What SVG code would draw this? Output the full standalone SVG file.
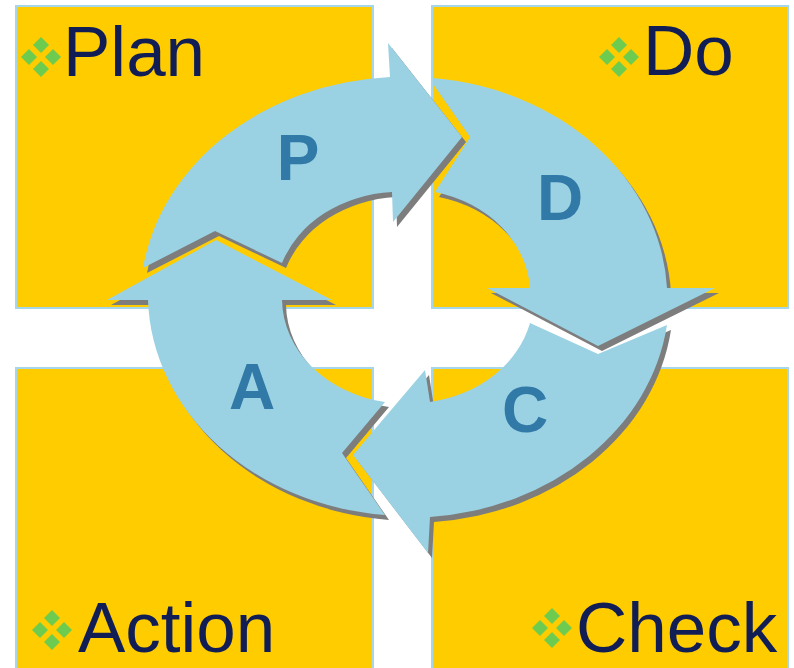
<svg xmlns="http://www.w3.org/2000/svg" xmlns:xlink="http://www.w3.org/1999/xlink" width="794" height="668" viewBox="0 0 794 668">
  <style>
    .box { fill: #FFCC00; stroke: #A6D6EA; stroke-width: 2; }
    .title { font-family: "Liberation Sans", Arial, sans-serif; font-size: 71px; fill: #111D55; }
    .arrow { fill: #9BD2E3; }
    .shadow { fill: #7D7D7D; filter: url(#soft); }
    .letter { font-family: "Liberation Sans", Arial, sans-serif; font-weight: bold; font-size: 64px; fill: #317AA8; text-anchor: middle; }
    .dia { fill: #6DCB4F; }
  </style>
  <defs>
    <filter id="soft" x="-5%" y="-5%" width="110%" height="110%">
      <feGaussianBlur stdDeviation="0.5"/>
    </filter>
    <g id="bullet">
      <polygon class="dia" points="0,-20 8,-12 0,-4 -8,-12"/>
      <polygon class="dia" points="0,4 8,12 0,20 -8,12"/>
      <polygon class="dia" points="-12,-8 -4,0 -12,8 -20,0"/>
      <polygon class="dia" points="12,-8 20,0 12,8 4,0"/>
    </g>
    <path id="arrC" d="M667,325 A260,222 0 0 1 430,517 L428,553 L353,455 L425,370 L430,402 A124,105 0 0 0 530,323 L598,354 Z"/>
    <path id="arrD" d="M433,78 A260,222 0 0 1 667,288 L715,288 L598,346 L487,288 L530,288 A124,105 0 0 0 435,192 L470,137 L433,84 Z"/>
    <path id="arrP" d="M143,268 A265,224 0 0 1 390,77 L388,43 L462,137 L393,222 L392,192 A124,105 0 0 0 282,263 L215,231 Z"/>
    <path id="arrA" d="M385,515 A260,222 0 0 1 148,300 L107,300 L216,240 L332,300 L282,300 A124,105 0 0 0 385,402 L342,453 Z"/>
  </defs>

  <g id="plan">
    <rect class="box" x="16" y="6" width="357" height="302"/>
    <use xlink:href="#bullet" href="#bullet" x="41" y="57"/>
    <text class="title" x="63" y="76">Plan</text>
  </g>
  <g id="do">
    <rect class="box" x="432" y="6" width="356" height="302"/>
    <use xlink:href="#bullet" href="#bullet" x="619" y="57"/>
    <text class="title" x="643" y="75">Do</text>
  </g>
  <g id="action">
    <rect class="box" x="16" y="368" width="357" height="302"/>
    <use xlink:href="#bullet" href="#bullet" x="52" y="630"/>
    <text class="title" x="78" y="652">Action</text>
  </g>
  <g id="check">
    <rect class="box" x="432" y="368" width="356" height="302"/>
    <use xlink:href="#bullet" href="#bullet" x="552" y="628"/>
    <text class="title" x="576" y="652">Check</text>
  </g>

  <g id="connectors">
    <g id="arrow-c">
      <use class="shadow" xlink:href="#arrC" href="#arrC" transform="translate(4,5)"/>
      <use class="arrow" xlink:href="#arrC" href="#arrC"/>
      <text class="letter" x="525" y="432">C</text>
    </g>
    <g id="arrow-d">
      <use class="shadow" xlink:href="#arrD" href="#arrD" transform="translate(4,5)"/>
      <use class="arrow" xlink:href="#arrD" href="#arrD"/>
      <text class="letter" x="560" y="220">D</text>
    </g>
    <g id="arrow-p">
      <use class="shadow" xlink:href="#arrP" href="#arrP" transform="translate(4,5)"/>
      <use class="arrow" xlink:href="#arrP" href="#arrP"/>
      <text class="letter" x="298" y="180">P</text>
    </g>
    <g id="arrow-a">
      <use class="shadow" xlink:href="#arrA" href="#arrA" transform="translate(4,5)"/>
      <use class="arrow" xlink:href="#arrA" href="#arrA"/>
      <text class="letter" x="252" y="409">A</text>
    </g>
  </g>
</svg>
